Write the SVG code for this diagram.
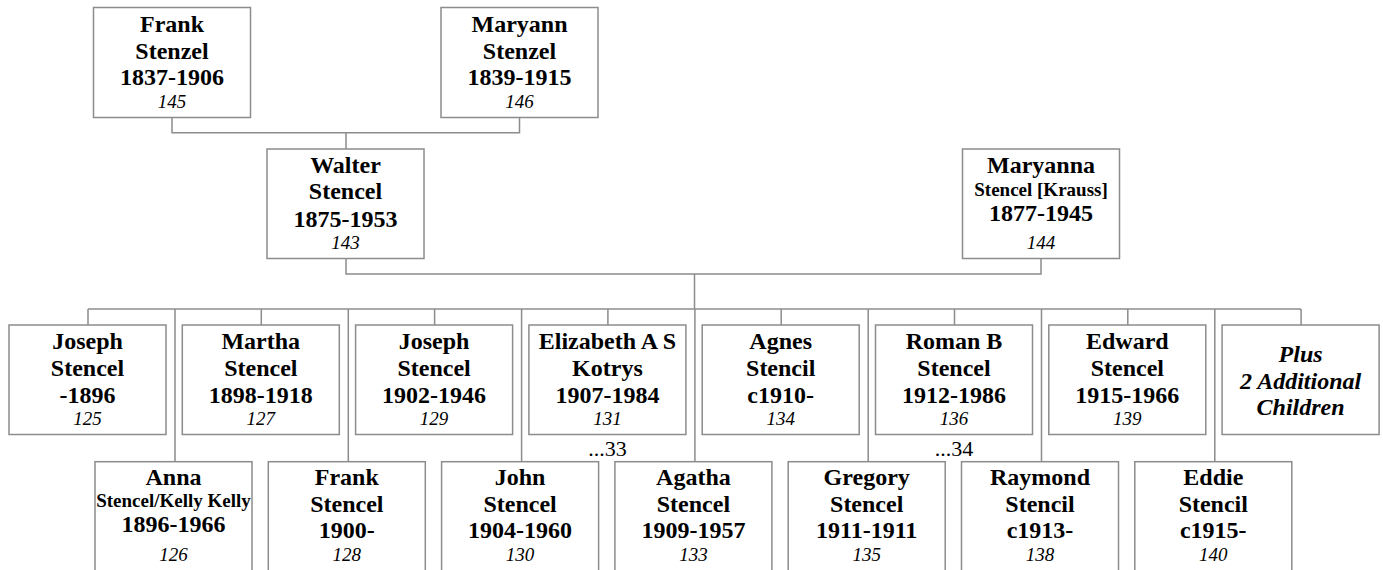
<svg xmlns="http://www.w3.org/2000/svg" width="1383" height="570" viewBox="0 0 1383 570">
<style>
.box{fill:#fff;stroke:#8c8c8c;stroke-width:1.5}
.con{fill:none;stroke:#8c8c8c;stroke-width:1.5}
text{font-family:"Liberation Serif","Times New Roman",serif;fill:#000;text-anchor:middle}
.b{font-weight:bold;font-size:24px}
.s{font-weight:bold;font-size:19px}
.i{font-style:italic;font-size:19px}
.bi{font-weight:bold;font-style:italic;font-size:24px}
.r{font-size:22px}
</style>
<rect width="1383" height="570" fill="#fff"/>
<g id="connectors">
<path class="con" d="M172,117.5V132.7H519.5V117.5M346,132.7V149"/>
<path class="con" d="M346,258.5V274H1041V258.5M694.5,274V309"/>
<path class="con" d="M88,309H1301"/>
<path class="con" d="M88,309V325M261.3,309V325M434.6,309V325M607.9,309V325M781.2,309V325M954.5,309V325M1127.8,309V325M1301.1,309V325"/>
<path class="con" d="M175,309V461.7M348.3,309V461.7M521.6,309V461.7M694.9,309V461.7M868.2,309V461.7M1041.5,309V461.7M1214.8,309V461.7"/>
</g>
<g id="n145"><rect class="box" x="93.5" y="7.5" width="157" height="110"/>
<text class="b" x="172" y="32.3">Frank</text><text class="b" x="172" y="58.5">Stenzel</text><text class="b" x="172" y="85">1837-1906</text><text class="i" x="172" y="108.3">145</text></g>
<g id="n146"><rect class="box" x="441" y="7.5" width="157" height="110"/>
<text class="b" x="519.5" y="32.3">Maryann</text><text class="b" x="519.5" y="58.5">Stenzel</text><text class="b" x="519.5" y="85">1839-1915</text><text class="i" x="519.5" y="108.3">146</text></g>
<g id="n143"><rect class="box" x="267" y="149" width="157" height="109.5"/>
<text class="b" x="345.5" y="172.7">Walter</text><text class="b" x="345.5" y="199.3">Stencel</text><text class="b" x="345.5" y="226.7">1875-1953</text><text class="i" x="345.5" y="249.3">143</text></g>
<g id="n144"><rect class="box" x="962.5" y="149" width="157" height="109.5"/>
<text class="b" x="1041" y="172.7">Maryanna</text><text class="s" x="1041" y="196">Stencel [Krauss]</text><text class="b" x="1041" y="221.3">1877-1945</text><text class="i" x="1041" y="249.3">144</text></g>

<g id="n125"><rect class="box" x="9" y="325" width="157" height="109.5"/>
<text class="b" x="87.5" y="349">Joseph</text><text class="b" x="87.5" y="376">Stencel</text><text class="b" x="87.5" y="402.7">-1896</text><text class="i" x="87.5" y="425">125</text></g>
<g id="n127"><rect class="box" x="182.3" y="325" width="157" height="109.5"/>
<text class="b" x="260.8" y="349">Martha</text><text class="b" x="260.8" y="376">Stencel</text><text class="b" x="260.8" y="402.7">1898-1918</text><text class="i" x="260.8" y="425">127</text></g>
<g id="n129"><rect class="box" x="355.6" y="325" width="157" height="109.5"/>
<text class="b" x="434.1" y="349">Joseph</text><text class="b" x="434.1" y="376">Stencel</text><text class="b" x="434.1" y="402.7">1902-1946</text><text class="i" x="434.1" y="425">129</text></g>
<g id="n131"><rect class="box" x="528.9" y="325" width="157" height="109.5"/>
<text class="b" x="607.4" y="349">Elizabeth A S</text><text class="b" x="607.4" y="376">Kotrys</text><text class="b" x="607.4" y="402.7">1907-1984</text><text class="i" x="607.4" y="425">131</text>
<text class="r" x="607.5" y="455.7">...33</text></g>
<g id="n134"><rect class="box" x="702.2" y="325" width="157" height="109.5"/>
<text class="b" x="780.7" y="349">Agnes</text><text class="b" x="780.7" y="376">Stencil</text><text class="b" x="780.7" y="402.7">c1910-</text><text class="i" x="780.7" y="425">134</text></g>
<g id="n136"><rect class="box" x="875.5" y="325" width="157" height="109.5"/>
<text class="b" x="954" y="349">Roman B</text><text class="b" x="954" y="376">Stencel</text><text class="b" x="954" y="402.7">1912-1986</text><text class="i" x="954" y="425">136</text>
<text class="r" x="954" y="455.7">...34</text></g>
<g id="n139"><rect class="box" x="1048.8" y="325" width="157" height="109.5"/>
<text class="b" x="1127.3" y="349">Edward</text><text class="b" x="1127.3" y="376">Stencel</text><text class="b" x="1127.3" y="402.7">1915-1966</text><text class="i" x="1127.3" y="425">139</text></g>
<g id="plus"><rect class="box" x="1222.1" y="325" width="157" height="109.5"/>
<text class="bi" x="1300.6" y="362.3">Plus</text><text class="bi" x="1300.6" y="389">2 Additional</text><text class="bi" x="1300.6" y="415">Children</text></g>

<g id="n126"><rect class="box" x="95" y="461.7" width="157" height="110"/>
<text class="b" x="173.5" y="485">Anna</text><text class="s" x="173.5" y="506.7">Stencel/Kelly Kelly</text><text class="b" x="173.5" y="532.3">1896-1966</text><text class="i" x="173.5" y="560.7">126</text></g>
<g id="n128"><rect class="box" x="268.3" y="461.7" width="157" height="110"/>
<text class="b" x="346.8" y="485">Frank</text><text class="b" x="346.8" y="511.5">Stencel</text><text class="b" x="346.8" y="538.3">1900-</text><text class="i" x="346.8" y="560.7">128</text></g>
<g id="n130"><rect class="box" x="441.6" y="461.7" width="157" height="110"/>
<text class="b" x="520.1" y="485">John</text><text class="b" x="520.1" y="511.5">Stencel</text><text class="b" x="520.1" y="538.3">1904-1960</text><text class="i" x="520.1" y="560.7">130</text></g>
<g id="n133"><rect class="box" x="614.9" y="461.7" width="157" height="110"/>
<text class="b" x="693.4" y="485">Agatha</text><text class="b" x="693.4" y="511.5">Stencel</text><text class="b" x="693.4" y="538.3">1909-1957</text><text class="i" x="693.4" y="560.7">133</text></g>
<g id="n135"><rect class="box" x="788.2" y="461.7" width="157" height="110"/>
<text class="b" x="866.7" y="485">Gregory</text><text class="b" x="866.7" y="511.5">Stencel</text><text class="b" x="866.7" y="538.3">1911-1911</text><text class="i" x="866.7" y="560.7">135</text></g>
<g id="n138"><rect class="box" x="961.5" y="461.7" width="157" height="110"/>
<text class="b" x="1040" y="485">Raymond</text><text class="b" x="1040" y="511.5">Stencil</text><text class="b" x="1040" y="538.3">c1913-</text><text class="i" x="1040" y="560.7">138</text></g>
<g id="n140"><rect class="box" x="1134.8" y="461.7" width="157" height="110"/>
<text class="b" x="1213.3" y="485">Eddie</text><text class="b" x="1213.3" y="511.5">Stencil</text><text class="b" x="1213.3" y="538.3">c1915-</text><text class="i" x="1213.3" y="560.7">140</text></g>
</svg>
